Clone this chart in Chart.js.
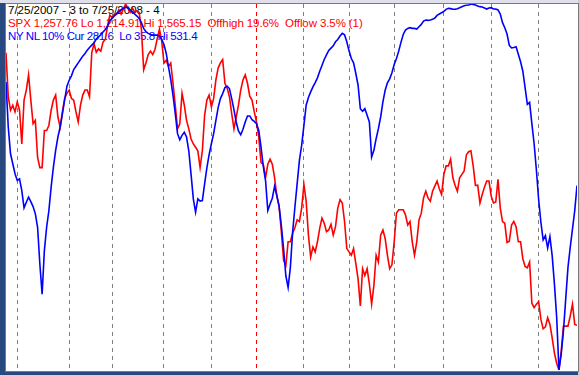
<!DOCTYPE html>
<html><head><meta charset="utf-8">
<script src="https://cdn.jsdelivr.net/npm/chart.js@4.4.1/dist/chart.umd.min.js"></script>
<style>
html,body{margin:0;padding:0;width:580px;height:375px;overflow:hidden;background:#27497f;}
#topband{position:absolute;left:0;top:0;width:580px;height:3px;background:#dfe0ec;}
#rightband{position:absolute;left:578px;top:0;width:2px;height:375px;background:#c9ccd6;}
#plot{position:absolute;left:5px;top:3px;width:574px;height:369px;box-sizing:border-box;border:1px solid #7a7a7a;background:#fff;}
.t{position:absolute;left:8px;font-family:"Liberation Sans",Arial,sans-serif;font-size:11.5px;line-height:12px;white-space:pre;}
#c{position:absolute;left:0;top:0;}
</style></head><body>
<div id="topband"></div>
<div id="rightband"></div>
<div id="plot"></div>
<div class="t" id="t1" style="top:4px;color:#000;letter-spacing:0px;"></div>
<div class="t" id="t2" style="top:17px;color:#ff0000;letter-spacing:-0.1px;"></div>
<div class="t" id="t3" style="top:30px;color:#0000ff;letter-spacing:-0.4px;"></div>
<canvas id="c" width="580" height="375"></canvas>
<script>
// Header texts
const titleText = "7/25/2007 - 3 to 7/25/2008 - 4";
const spxText = "SPX 1,257.76 Lo 1,214.91 Hi 1,565.15  Offhigh 19.6%  Offlow 3.5% (1)";
const nlText = "NY NL 10% Cur 281.6  Lo 35.8 Hi 531.4";

// Trading-day index of month starts (Aug 2007 .. Jul 2008); index 111 = first session of 2008
const monthStarts = [5, 28, 47, 70, 91, 111, 132, 152, 172, 194, 215, 236];
const yearStart = 111;

// SPX daily close, 7/25/2007 .. 7/25/2008
const spx = [
1518.4,1476.4,1463.5,1468.3,1461.9,1471.5,1463.5,1431.2,1473.2,1482.8,
1497.4,1473.2,1450.6,1453.8,1418.3,1408.6,1408.6,1444.1,1444.1,1448.9,
1463.5,1473.2,1478.0,1457.0,1447.3,1461.9,1474.8,1479.6,1482.8,1474.8,
1473.2,1461.9,1452.2,1468.3,1478.0,1482.8,1482.8,1476.4,1518.4,1527.1,
1519.0,1522.2,1520.0,1528.7,1531.3,1544.2,1554.5,1552.2,1555.5,1555.2,
1559.7,1555.5,1560.3,1565.15,1561.0,1557.1,1561.3,1557.1,1558.7,1557.1,
1540.9,1502.2,1508.7,1516.7,1520.0,1516.7,1521.6,1531.9,1540.9,1529.6,
1508.7,1511.3,1505.4,1508.7,1489.3,1468.3,1445.7,1450.6,1479.6,1468.3,
1453.8,1445.7,1436.0,1431.2,1428.0,1424.7,1408.6,1424.7,1458.6,1473.2,
1478.0,1466.7,1474.8,1492.5,1503.8,1508.7,1511.9,1489.3,1484.5,1476.4,
1460.2,1445.7,1457.0,1468.3,1482.8,1492.5,1497.4,1489.3,1477.0,1473.2,
1461.9,1452.2,1437.7,1413.4,1411.8,1398.9,1411.8,1416.7,1411.8,1398.9,
1381.2,1371.5,1347.3,1319.8,1315.0,1337.6,1337.6,1345.7,1351.1,1358.6,
1357.0,1369.9,1392.5,1376.3,1344.0,1323.1,1332.7,1327.9,1337.6,1350.5,
1360.2,1355.3,1347.3,1348.9,1354.4,1344.0,1352.1,1369.9,1377.9,1374.7,
1357.0,1331.1,1327.9,1324.7,1331.1,1316.6,1302.1,1276.3,1311.8,1305.3,
1311.8,1297.2,1277.9,1295.6,1324.7,1318.2,1344.0,1348.9,1340.8,1324.7,
1311.8,1315.6,1337.6,1365.0,1368.2,1368.2,1368.2,1363.4,1353.7,1357.0,
1337.6,1324.7,1337.6,1358.6,1365.0,1379.5,1386.0,1379.5,1376.3,1386.0,
1390.8,1395.7,1388.3,1382.8,1402.1,1410.2,1410.2,1416.7,1398.9,1391.5,
1386.0,1398.9,1402.1,1405.4,1420.9,1423.8,1424.7,1410.2,1391.5,1391.8,
1374.7,1382.8,1389.9,1395.7,1395.7,1381.2,1374.7,1375.7,1397.3,1369.9,
1357.0,1355.3,1336.9,1338.2,1353.7,1357.0,1352.1,1337.6,1337.6,1321.4,
1314.0,1312.7,1318.2,1278.8,1274.6,1277.9,1280.4,1263.3,1254.3,1256.2,
1265.0,1258.5,1245.6,1231.1,1221.4,1214.91,1232.7,1256.9,1256.9,1256.9,
1266.6,1277.9,1258.5,1257.76
];

// NY NL 10%, plotted on an inverted scale
const nyNl = [
141.3,202.4,238.6,252.1,265.7,274.8,272.5,288.4,311.9,304.2,
297.4,303.3,310.1,320.0,338.1,387.9,428.7,369.8,338.1,315.5,
283.8,256.7,234.0,215.9,202.4,184.3,165.2,147.1,139.0,133.1,
124.5,120.0,115.5,110.9,106.4,102.8,98.3,94.6,91.5,88.3,
83.3,80.2,77.4,73.8,70.2,65.7,58.4,55.3,52.1,48.9,
46.2,43.5,41.7,39.9,41.2,43.9,46.2,49.4,52.1,55.3,
61.1,68.8,73.4,75.6,77.0,77.9,77.9,77.9,79.2,83.8,
90.6,102.8,120.9,138.1,159.4,184.3,211.4,219.6,213.7,209.6,
215.9,234.9,266.6,299.7,317.8,299.7,302.8,301.9,279.3,257.6,
239.9,225.0,211.4,193.3,176.1,163.9,157.1,149.0,147.1,150.3,
163.9,178.8,195.6,207.8,212.8,205.5,195.6,187.4,187.4,192.4,
194.7,197.8,206.9,229.5,255.8,274.8,315.5,306.5,298.8,282.5,
295.1,309.6,335.9,367.6,403.8,419.6,392.4,344.9,311.0,279.3,
247.6,227.2,200.1,172.9,162.5,154.8,148.0,142.2,135.8,126.8,
119.1,110.9,104.6,98.7,95.5,92.4,86.9,83.8,79.2,75.6,
77.4,86.9,99.2,109.6,115.5,129.9,145.8,177.5,181.1,177.5,
186.5,195.6,243.1,234.0,218.2,204.6,188.8,168.4,152.6,142.6,
137.2,129.0,117.7,109.6,99.6,87.8,77.0,71.1,68.8,67.9,
68.8,68.8,69.7,66.6,63.4,58.9,57.5,58.0,57.5,56.6,
54.8,51.2,49.4,47.6,45.8,43.0,41.7,42.1,43.0,43.0,
42.1,40.8,39.4,38.1,37.6,37.2,35.8,36.3,37.2,38.5,
39.4,39.9,41.2,42.6,41.2,40.8,42.6,42.6,43.9,49.4,
61.1,67.9,76.5,91.9,95.1,94.6,93.7,103.7,114.1,126.8,
149.0,171.6,168.9,197.8,225.0,260.3,300.6,331.3,355.3,349.4,
366.2,350.8,376.6,415.1,460.3,531.4,510.1,478.4,435.4,392.4,
365.3,340.4,315.5,281.6
];

const spxRange = [1214.91, 1565.15];
const nlRange = [35.8, 531.4];

document.getElementById('t1').textContent = titleText;
document.getElementById('t2').textContent = spxText;
document.getElementById('t3').textContent = nlText;

new Chart(document.getElementById('c'), {
  type: 'line',
  data: {
    datasets: [
      {
        label: 'NY NL 10%',
        data: nyNl.map((v, i) => ({x: i, y: v})),
        yAxisID: 'yNl',
        borderColor: '#0000ff',
        borderWidth: 1.6,
        pointRadius: 0,
        tension: 0,
        order: 0
      },
      {
        label: 'SPX',
        data: spx.map((v, i) => ({x: i, y: v})),
        yAxisID: 'ySpx',
        borderColor: '#ff0000',
        borderWidth: 1.6,
        pointRadius: 0,
        tension: 0,
        order: 1
      }
    ]
  },
  options: {
    responsive: false,
    animation: false,
    devicePixelRatio: 1,
    layout: {padding: {left: 6, right: 3, top: 4, bottom: 5}},
    plugins: {legend: {display: false}, tooltip: {enabled: false}, title: {display: false}},
    scales: {
      x: {
        type: 'linear',
        min: 0,
        max: spx.length - 1,
        afterBuildTicks: axis => { axis.ticks = monthStarts.map(v => ({value: v})); },
        ticks: {display: false},
        grid: {
          drawTicks: false,
          lineWidth: 1,
          color: ctx => (ctx.tick && ctx.tick.value === yearStart) ? '#ff0000' : '#808080'
        },
        border: {display: false, dash: [4, 4]}
      },
      ySpx: {
        display: false,
        min: spxRange[0],
        max: spxRange[1]
      },
      yNl: {
        display: false,
        reverse: true,
        min: nlRange[0],
        max: nlRange[1]
      }
    }
  }
});
</script>
</body></html>
